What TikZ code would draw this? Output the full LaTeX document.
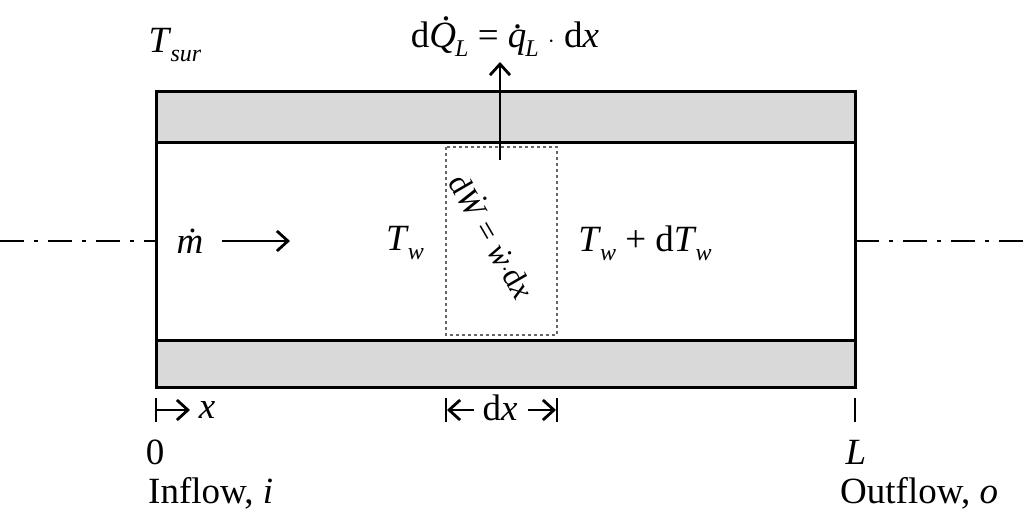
\documentclass[tikz,border=0pt]{standalone}
\usepackage{fontspec}
\setmainfont{Liberation Serif}
\usetikzlibrary{arrows.meta}
\newcommand{\subs}[1]{\kern-1pt\raisebox{-9pt}{\fontsize{24}{26}\selectfont\textit{#1}}}
\begin{document}
\begin{tikzpicture}[x=1pt,y=-1pt,font=\fontsize{37}{42}\selectfont,
  ln/.style={line width=3pt},
  arr/.style={line width=2.8pt,-{Straight Barb[length=11pt,width=20pt]}},
  lbl/.style={inner sep=0pt}]
\useasboundingbox (0,0) rectangle (1024,523);
\fill[gray!30] (156,91) rectangle (855,142);
\fill[gray!30] (156,340) rectangle (855,387);
\draw[ln] (156,91) rectangle (855,387);
\draw[ln] (156,142) -- (855,142);
\draw[ln] (156,340) -- (855,340);
\draw[gray!80!black,dashed,line width=1.3pt] (446,147) rectangle (557,335);
\coordinate (qs) at (500,160); \coordinate (qe) at (500,62);
\draw[arr] (qs) -- (qe);
\draw[line width=2pt,dash pattern=on 24pt off 10pt on 4pt off 10pt] (0,241) -- (156,241);
\draw[line width=2pt,dash pattern=on 24pt off 10pt on 4pt off 10pt] (855,241) -- (1024,241);
\node[lbl] (tsur) at (175,45) {\textit{T}\subs{sur}};
\node[lbl] (dq) at (505,37) {d\textit{\rlap{\kern13pt\raisebox{27pt}{.}}Q}\subs{L} = \textit{\rlap{\kern6pt\raisebox{19pt}{.}}q}\subs{L} $\cdot$ d\textit{x}};
\node[lbl] (m) at (190,241) {\textit{\.m}};
\coordinate (ma) at (222,241); \coordinate (mb) at (290,241);
\draw[arr] (ma) -- (mb);
\node[lbl] (tw) at (405,243) {\textit{T}\subs{w}};
\node[lbl] (tw2) at (645,243) {\textit{T}\subs{w} + d\textit{T}\subs{w}};
\node[lbl,rotate=-60,font=\fontsize{32}{36}\selectfont] (dw) at (493,236) {d\textit{\.W} = \textit{\.w}$\cdot$d\textit{x}};
% bottom markers
\draw[line width=2.6pt] (156,398) -- (156,422);
\draw[line width=2.6pt] (855,398) -- (855,422);
\draw[line width=2.6pt] (446,398) -- (446,422);
\draw[line width=2.6pt] (557,398) -- (557,422);
\coordinate (x0) at (156,410); \coordinate (x1) at (190,410);
\draw[arr] (x0) -- (x1);
\node[lbl] (xl) at (207,410) {\textit{x}};
\node[lbl] (dx) at (500,408) {d\textit{x}};
\coordinate (d1) at (474,410); \coordinate (d2) at (528,410);
\draw[arr] (d1) -- (447,410);
\draw[arr] (d2) -- (556,410);
\node[lbl] (z) at (155,452) {0};
\node[lbl] (L) at (856,452) {\textit{L}};
\node[lbl,anchor=west] (in) at (148,493) {Inflow, \textit{i}};
\node[lbl,anchor=west] (out) at (840,493) {Outflow, \textit{o}};
\end{tikzpicture}
\end{document}
